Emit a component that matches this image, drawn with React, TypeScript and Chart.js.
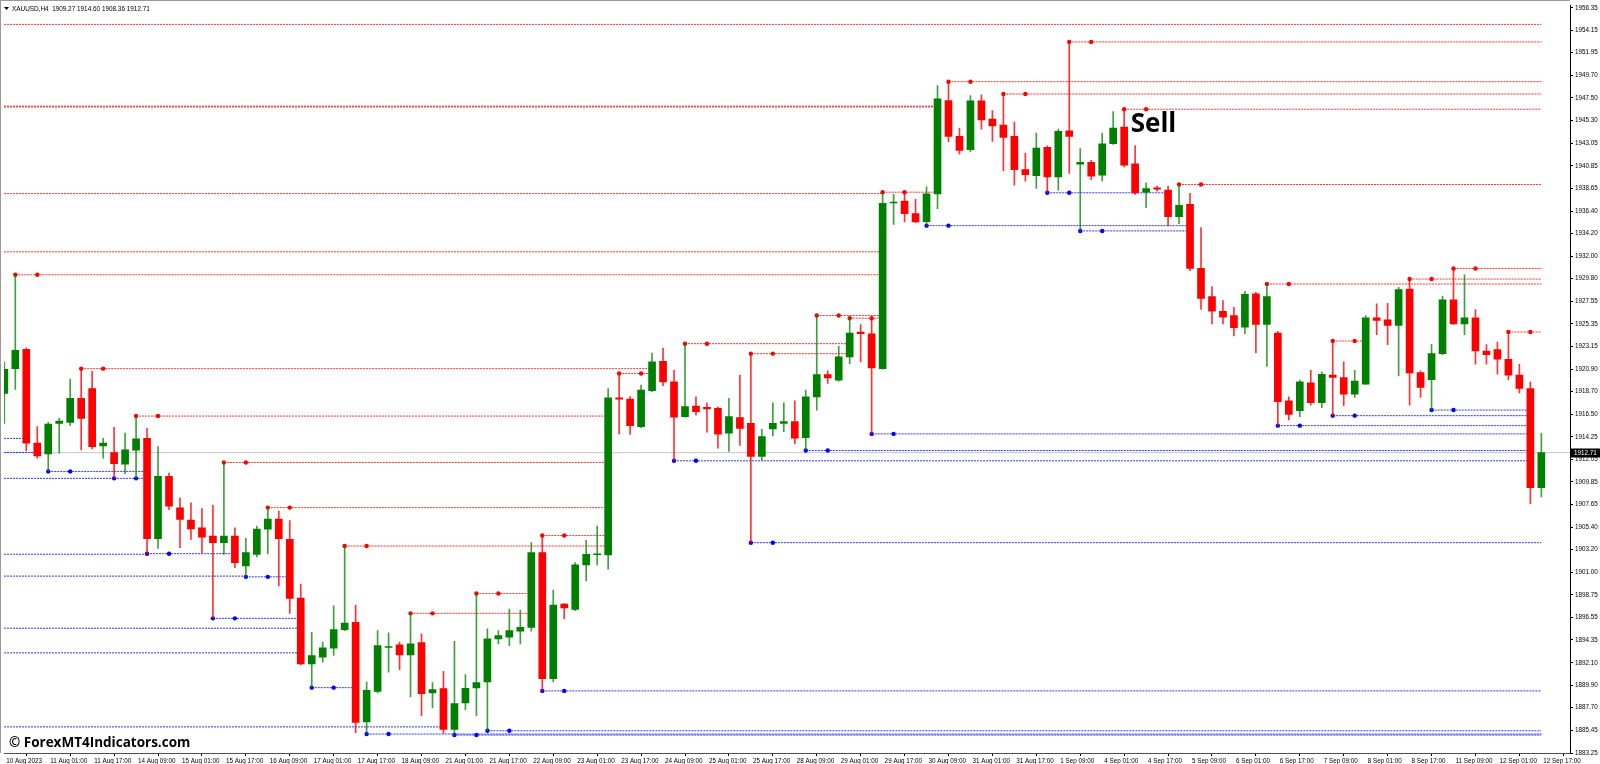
import React, { useEffect, useRef } from "react";
import { Chart, registerables } from "chart.js";

Chart.register(...registerables);

const symbolName = "XAUUSD,H4";

const opens = [
  1918.52, 1920.95, 1922.84, 1913.64, 1912.59, 1915.59, 1915.68, 1918.03, 1919.0, 1913.38,
  1912.72, 1911.59, 1912.95, 1914.12, 1904.27, 1910.38, 1907.29, 1906.09, 1905.34, 1904.53,
  1903.88, 1904.53, 1901.6, 1902.74, 1905.21, 1906.19, 1904.2, 1898.44, 1892.0, 1892.65,
  1893.53, 1895.35, 1896.07, 1886.31, 1889.3, 1893.6, 1893.86, 1892.88, 1894.08, 1889.14,
  1889.56, 1885.56, 1888.16, 1889.63, 1890.21, 1894.44, 1894.61, 1895.19, 1895.58, 1902.9,
  1890.54, 1897.86, 1897.34, 1901.7, 1902.7, 1902.67, 1918.09, 1917.96, 1915.27, 1918.78,
  1921.67, 1919.66, 1916.24, 1917.28, 1917.15, 1917.05, 1914.61, 1916.14, 1915.59, 1912.34,
  1915.04, 1915.59, 1915.75, 1914.19, 1918.19, 1920.37, 1919.82, 1922.1, 1924.54, 1924.37,
  1920.96, 1937.2, 1937.39, 1936.15, 1935.37, 1938.1, 1947.24, 1943.73, 1942.43, 1947.21,
  1945.42, 1944.84, 1943.73, 1940.48, 1939.89, 1942.66, 1939.76, 1944.28, 1941.0, 1941.19,
  1939.92, 1943.01, 1944.64, 1941.03, 1938.27, 1938.69, 1938.46, 1935.86, 1937.06, 1930.78,
  1928.02, 1926.58, 1926.16, 1925.02, 1928.28, 1925.28, 1924.44, 1917.8, 1916.83, 1919.56,
  1917.61, 1920.31, 1920.08, 1918.45, 1919.43, 1925.93, 1925.74, 1925.19, 1928.76, 1920.57,
  1919.88, 1922.42, 1927.69, 1925.35, 1925.93, 1922.68, 1922.81, 1921.87, 1920.31, 1919.0,
  1909.27,
];
const highs = [
  1921.61, 1930.16, 1923.0, 1915.26, 1915.68, 1916.07, 1919.92, 1920.95, 1920.69, 1914.12,
  1915.2, 1914.64, 1916.3, 1915.1, 1913.31, 1910.71, 1908.27, 1907.78, 1907.23, 1907.55,
  1911.75, 1905.34, 1904.3, 1905.5, 1907.32, 1906.97, 1906.06, 1899.81, 1895.09, 1894.12,
  1897.69, 1903.55, 1897.76, 1890.21, 1895.26, 1895.03, 1894.12, 1896.95, 1894.93, 1890.15,
  1891.25, 1894.21, 1890.93, 1898.9, 1895.42, 1895.26, 1897.37, 1897.27, 1903.88, 1904.59,
  1899.22, 1897.9, 1901.93, 1904.1, 1905.5, 1919.0, 1920.47, 1918.2, 1919.33, 1922.49,
  1922.97, 1920.8, 1923.4, 1918.19, 1917.61, 1917.2, 1918.03, 1920.31, 1922.42, 1915.0,
  1917.61, 1917.61, 1917.8, 1918.84, 1926.16, 1920.73, 1923.14, 1925.9, 1925.28, 1925.9,
  1938.26, 1938.04, 1938.2, 1937.55, 1938.78, 1948.71, 1949.1, 1944.54, 1947.73, 1947.8,
  1946.27, 1947.89, 1945.13, 1942.1, 1944.05, 1942.8, 1944.44, 1953.0, 1942.53, 1941.39,
  1944.05, 1946.17, 1946.4, 1942.82, 1939.17, 1938.85, 1938.85, 1939.01, 1938.14, 1934.78,
  1928.99, 1927.63, 1926.97, 1928.54, 1928.44, 1929.25, 1924.6, 1918.19, 1919.82, 1920.79,
  1920.63, 1923.66, 1921.61, 1920.79, 1926.16, 1927.3, 1927.37, 1928.93, 1929.74, 1920.73,
  1923.33, 1928.05, 1930.78, 1930.16, 1926.75, 1923.3, 1923.56, 1924.54, 1921.38, 1919.66,
  1914.6,
];
const lows = [
  1915.59, 1918.91, 1912.89, 1912.17, 1910.87, 1912.66, 1915.36, 1912.99, 1913.08, 1912.17,
  1910.19, 1910.64, 1910.19, 1902.8, 1903.32, 1907.13, 1903.39, 1904.2, 1902.9, 1896.46,
  1902.74, 1901.44, 1900.53, 1902.48, 1902.8, 1899.65, 1896.95, 1891.9, 1889.66, 1892.16,
  1892.82, 1895.26, 1885.25, 1885.11, 1889.14, 1891.19, 1891.42, 1888.75, 1886.9, 1887.68,
  1885.17, 1885.01, 1887.51, 1886.9, 1885.43, 1893.95, 1893.79, 1893.95, 1895.19, 1889.34,
  1890.21, 1896.39, 1897.21, 1900.14, 1901.7, 1901.27, 1914.55, 1914.51, 1915.17, 1918.7,
  1919.27, 1911.91, 1916.18, 1916.4, 1914.71, 1913.15, 1912.82, 1913.41, 1903.88, 1912.01,
  1914.35, 1914.78, 1913.57, 1912.92, 1916.89, 1919.49, 1919.72, 1921.45, 1921.61, 1914.55,
  1920.9, 1935.11, 1935.34, 1935.3, 1934.98, 1936.64, 1943.18, 1942.0, 1942.2, 1944.44,
  1943.24, 1940.38, 1938.95, 1939.34, 1938.62, 1938.2, 1938.43, 1940.09, 1934.46, 1939.5,
  1939.34, 1942.95, 1940.74, 1938.04, 1936.74, 1938.36, 1934.95, 1935.17, 1930.55, 1926.75,
  1925.35, 1925.35, 1924.15, 1924.37, 1922.52, 1921.18, 1915.36, 1915.91, 1916.24, 1917.38,
  1917.12, 1916.34, 1917.31, 1918.13, 1919.4, 1924.28, 1923.3, 1920.24, 1917.38, 1918.13,
  1916.89, 1922.32, 1925.3, 1924.28, 1921.38, 1921.38, 1920.4, 1919.88, 1918.58, 1907.68,
  1908.36,
];
const closes = [
  1920.89, 1922.74, 1913.64, 1912.4, 1915.52, 1915.81, 1918.03, 1916.07, 1913.31, 1913.64,
  1911.62, 1912.98, 1914.06, 1904.27, 1910.38, 1907.45, 1906.15, 1905.24, 1904.43, 1903.88,
  1904.53, 1901.92, 1902.9, 1905.21, 1906.19, 1904.27, 1898.41, 1892.0, 1892.81, 1893.56,
  1895.35, 1896.0, 1886.25, 1889.4, 1893.79, 1893.7, 1892.88, 1893.95, 1889.07, 1889.46,
  1885.56, 1888.1, 1889.6, 1890.15, 1894.44, 1894.77, 1895.26, 1895.58, 1902.9, 1890.54,
  1897.76, 1897.47, 1901.7, 1902.74, 1902.78, 1918.09, 1917.95, 1915.36, 1918.84, 1921.61,
  1919.66, 1916.18, 1917.22, 1916.73, 1917.0, 1914.52, 1916.24, 1915.1, 1912.34, 1914.29,
  1915.59, 1915.75, 1914.13, 1918.19, 1920.37, 1920.05, 1922.1, 1924.44, 1924.37, 1921.02,
  1937.16, 1937.3, 1936.15, 1935.34, 1938.1, 1947.41, 1943.73, 1942.36, 1947.21, 1945.36,
  1944.77, 1943.63, 1940.48, 1939.99, 1942.59, 1939.76, 1944.22, 1943.73, 1941.19, 1939.83,
  1943.01, 1944.54, 1940.9, 1938.2, 1938.62, 1938.56, 1935.86, 1936.96, 1930.78, 1927.85,
  1926.58, 1926.0, 1924.96, 1928.24, 1925.28, 1928.02, 1917.7, 1916.47, 1919.66, 1917.61,
  1920.4, 1920.08, 1918.45, 1919.72, 1925.93, 1925.67, 1925.19, 1928.7, 1920.53, 1919.1,
  1922.42, 1927.69, 1925.35, 1925.93, 1922.68, 1922.32, 1921.87, 1920.31, 1919.0, 1909.27,
  1912.71,
];

const xTickLabels = [
  "10 Aug 2023", "11 Aug 01:00", "11 Aug 17:00", "14 Aug 09:00", "15 Aug 01:00", "15 Aug 17:00",
  "16 Aug 09:00", "17 Aug 01:00", "17 Aug 17:00", "18 Aug 09:00", "21 Aug 01:00", "21 Aug 17:00",
  "22 Aug 09:00", "23 Aug 01:00", "23 Aug 17:00", "24 Aug 09:00", "25 Aug 01:00", "25 Aug 17:00",
  "28 Aug 09:00", "29 Aug 01:00", "29 Aug 17:00", "30 Aug 09:00", "31 Aug 01:00", "31 Aug 17:00",
  "1 Sep 09:00", "4 Sep 01:00", "4 Sep 17:00", "5 Sep 09:00", "6 Sep 01:00", "6 Sep 17:00",
  "7 Sep 09:00", "8 Sep 01:00", "8 Sep 17:00", "11 Sep 09:00", "12 Sep 01:00", "12 Sep 17:00",
];
const xTickStep = 4;

const yTickValues = [
  1956.35, 1954.15, 1951.95, 1949.7, 1947.5, 1945.3, 1943.05, 1940.85, 1938.65, 1936.4,
  1934.2, 1932.0, 1929.8, 1927.55, 1925.35, 1923.15, 1920.9, 1918.7, 1916.5, 1914.25,
  1912.05, 1909.85, 1907.65, 1905.4, 1903.2, 1901.0, 1898.75, 1896.55, 1894.35, 1892.1,
  1889.9, 1887.7, 1885.45, 1883.25,
];

// resistance (fractal highs); start null = level begins before the visible bars
const resistancePrices = [
  1954.72, 1946.7, 1946.62, 1938.12, 1932.41, 1930.16, 1920.95, 1916.3, 1911.75, 1907.32,
  1903.55, 1896.95, 1898.9, 1904.59, 1920.47, 1923.4, 1922.42, 1926.16, 1925.9, 1938.26,
  1949.1, 1947.89, 1953.0, 1946.4, 1939.01, 1929.25, 1923.66, 1929.74, 1930.78, 1924.54,
];
const resistanceStarts = [
  null, null, null, null, null, 1, 7, 12, 20, 24,
  31, 37, 43, 49, 56, 62, 68, 74, 77, 80,
  86, 91, 97, 102, 107, 115, 121, 128, 132, 137,
];
const resistanceEnds = [
  140, 85, 85, 80, 80, 80, 59, 55, 55, 55,
  55, 48, 48, 55, 59, 77, 77, 80, 80, 85,
  140, 140, 140, 140, 140, 140, 124, 140, 140, 140,
];

// support (fractal lows)
const supportPrices = [
  1914.11, 1912.73, 1910.87, 1910.19, 1910.19, 1902.75, 1902.8, 1900.6, 1900.53, 1896.46,
  1895.49, 1893.07, 1889.66, 1885.81, 1885.11, 1885.01, 1885.43, 1889.34, 1911.91, 1903.88,
  1912.92, 1914.55, 1934.98, 1938.2, 1934.46, 1915.36, 1916.34, 1916.89,
];
const supportStarts = [
  null, null, 4, null, 10, null, 13, null, 22, 19,
  null, null, 28, null, 33, 41, 44, 49, 61, 68,
  73, 79, 84, 95, 98, 116, 121, 130,
];
const supportEnds = [
  2, 3, 13, 10, 13, 13, 21, 22, 26, 27,
  27, 27, 32, 40, 140, 140, 140, 140, 139, 140,
  139, 139, 108, 106, 108, 139, 139, 139,
];

const currentPrice = 1912.71;
const sellText = "Sell";
const sellBar = 102.6;
const sellPrice = 1944.2;
const watermark = "\u00A9 ForexMT4Indicators.com";

const X_MIN = -0.03;
const X_MAX = 142.61;
const Y_MIN = 1883.25;
const Y_MAX = 1956.545;

const UP = "#008000";
const DOWN = "#ff0000";
const UP_WICK = "rgba(0,128,0,0.75)";
const DOWN_WICK = "rgba(255,0,0,0.8)";
const RES_COLOR = "rgba(255,0,0,0.8)";
const SUP_COLOR = "rgba(0,0,255,0.8)";
const TICK_FONT = { family: "'Liberation Sans', Arial, sans-serif", size: 6.3 };

function levelDatasets(prices: number[], starts: (number | null)[], ends: number[], color: string) {
  return prices.map((p, k) => ({
    type: "line" as const,
    data: [
      { x: starts[k] === null ? X_MIN : (starts[k] as number), y: p },
      { x: ends[k], y: p },
    ],
    borderColor: color,
    borderWidth: 1,
    borderDash: [2, 1],
    pointRadius: 0,
    fill: false,
    tension: 0,
    order: 6,
  }));
}

function dotPoints(prices: number[], starts: (number | null)[]) {
  const pts: { x: number; y: number }[] = [];
  prices.forEach((p, k) => {
    const s = starts[k];
    if (s !== null) {
      pts.push({ x: s, y: p });
      pts.push({ x: s + 2, y: p });
    }
  });
  return pts;
}

const decorPlugin = {
  id: "decor",
  afterDraw(chart: any) {
    const { ctx, chartArea, scales } = chart;
    const xs = scales.x;
    const ys = scales.y;
    ctx.save();
    // window frame
    ctx.fillStyle = "#9a9a9a";
    ctx.fillRect(0, 0, chartArea.right, 1);
    ctx.fillRect(0, 0, 1, chartArea.bottom);
    // title
    const n = closes.length - 1;
    ctx.fillStyle = "#000";
    ctx.beginPath();
    ctx.moveTo(4, 7);
    ctx.lineTo(9, 7);
    ctx.lineTo(6.5, 10);
    ctx.closePath();
    ctx.fill();
    ctx.font = "6.4px 'Liberation Sans', Arial, sans-serif";
    ctx.textAlign = "left";
    ctx.textBaseline = "alphabetic";
    ctx.fillText(
      `${symbolName}  ${opens[n].toFixed(2)} ${highs[n].toFixed(2)} ${lows[n].toFixed(2)} ${closes[n].toFixed(2)}`,
      12,
      11
    );
    // Sell label
    ctx.font = "bold 26px 'Open Sans', sans-serif";
    ctx.fillText(sellText, xs.getPixelForValue(sellBar), ys.getPixelForValue(sellPrice));
    // watermark
    ctx.font = "bold 13.5px 'Open Sans', sans-serif";
    ctx.fillText(watermark, 9, 747);
    // current price box
    const py = Math.round(ys.getPixelForValue(currentPrice));
    ctx.fillStyle = "#000";
    ctx.fillRect(chartArea.right + 1, py - 4.5, 30, 9);
    ctx.fillStyle = "#fff";
    ctx.font = "6.3px 'Liberation Sans', Arial, sans-serif";
    ctx.textBaseline = "middle";
    ctx.fillText(currentPrice.toFixed(2), chartArea.right + 4, py);
    ctx.restore();
  },
};

export default function App() {
  const ref = useRef<HTMLCanvasElement>(null);
  useEffect(() => {
    document.body.style.margin = "0";
    const canvas = ref.current;
    if (!canvas) return;
    const idx = closes.map((_, i) => i);
    const isUp = idx.map((i) => closes[i] >= opens[i]);

    const datasets: any[] = [
      {
        type: "line",
        data: [
          { x: X_MIN, y: currentPrice },
          { x: X_MAX, y: currentPrice },
        ],
        borderColor: "#c4c4c4",
        borderWidth: 1,
        pointRadius: 0,
        order: 9,
      },
      ...levelDatasets(resistancePrices, resistanceStarts, resistanceEnds, RES_COLOR),
      ...levelDatasets(supportPrices, supportStarts, supportEnds, SUP_COLOR),
      {
        type: "scatter",
        data: dotPoints(resistancePrices, resistanceStarts),
        pointRadius: 2.2,
        pointBackgroundColor: "#ff0000",
        pointBorderWidth: 0,
        showLine: false,
        order: 3,
      },
      {
        type: "scatter",
        data: dotPoints(supportPrices, supportStarts),
        pointRadius: 2.2,
        pointBackgroundColor: "#0000ff",
        pointBorderWidth: 0,
        showLine: false,
        order: 3,
      },
      {
        type: "bar",
        data: idx.map((i) => ({ x: i, y: [lows[i], highs[i]] })),
        backgroundColor: idx.map((i) => (isUp[i] ? UP_WICK : DOWN_WICK)),
        borderWidth: 0,
        barThickness: 1,
        grouped: false,
        order: 2,
      },
      {
        type: "bar",
        data: idx.map((i) => ({ x: i, y: [opens[i], closes[i]] })),
        backgroundColor: idx.map((i) => (isUp[i] ? UP : DOWN)),
        borderWidth: 0,
        barThickness: 7,
        minBarLength: 1,
        grouped: false,
        order: 1,
      },
    ];

    const chart = new Chart(canvas, {
      type: "bar",
      data: { datasets },
      options: {
        responsive: false,
        animation: false,
        devicePixelRatio: 1,
        events: [],
        layout: { padding: { left: 1, top: 2, right: 0, bottom: 0 } },
        plugins: { legend: { display: false }, tooltip: { enabled: false } },
        scales: {
          x: {
            type: "linear",
            min: X_MIN,
            max: X_MAX,
            offset: false,
            position: "bottom",
            afterBuildTicks: (s: any) => {
              s.ticks = xTickLabels.map((_, k) => ({ value: k * xTickStep }));
            },
            afterFit: (s: any) => {
              s.height = 11;
            },
            ticks: {
              autoSkip: false,
              maxRotation: 0,
              minRotation: 0,
              align: "start",
              labelOffset: 2,
              padding: 1,
              color: "#000",
              font: TICK_FONT,
              callback: (_v: any, i: number) => xTickLabels[i],
            },
            grid: { drawOnChartArea: false, drawTicks: true, tickLength: 3, color: "#000" },
            border: { display: true, color: "#505050" },
          },
          y: {
            type: "linear",
            position: "right",
            min: Y_MIN,
            max: Y_MAX,
            afterBuildTicks: (s: any) => {
              s.ticks = yTickValues.map((v) => ({ value: v }));
            },
            afterFit: (s: any) => {
              s.width = 30;
            },
            ticks: {
              autoSkip: false,
              padding: 2,
              color: "#000",
              font: TICK_FONT,
              callback: (v: any) => Number(v).toFixed(2),
            },
            grid: { drawOnChartArea: false, drawTicks: true, tickLength: 3, color: "#000" },
            border: { display: true, color: "#000" },
          },
        },
      } as any,
      plugins: [decorPlugin],
    } as any);
    return () => chart.destroy();
  }, []);

  return (
    <canvas
      ref={ref}
      width={1600}
      height={764}
      style={{ display: "block", width: 1600, height: 764, background: "#fff" }}
    />
  );
}
